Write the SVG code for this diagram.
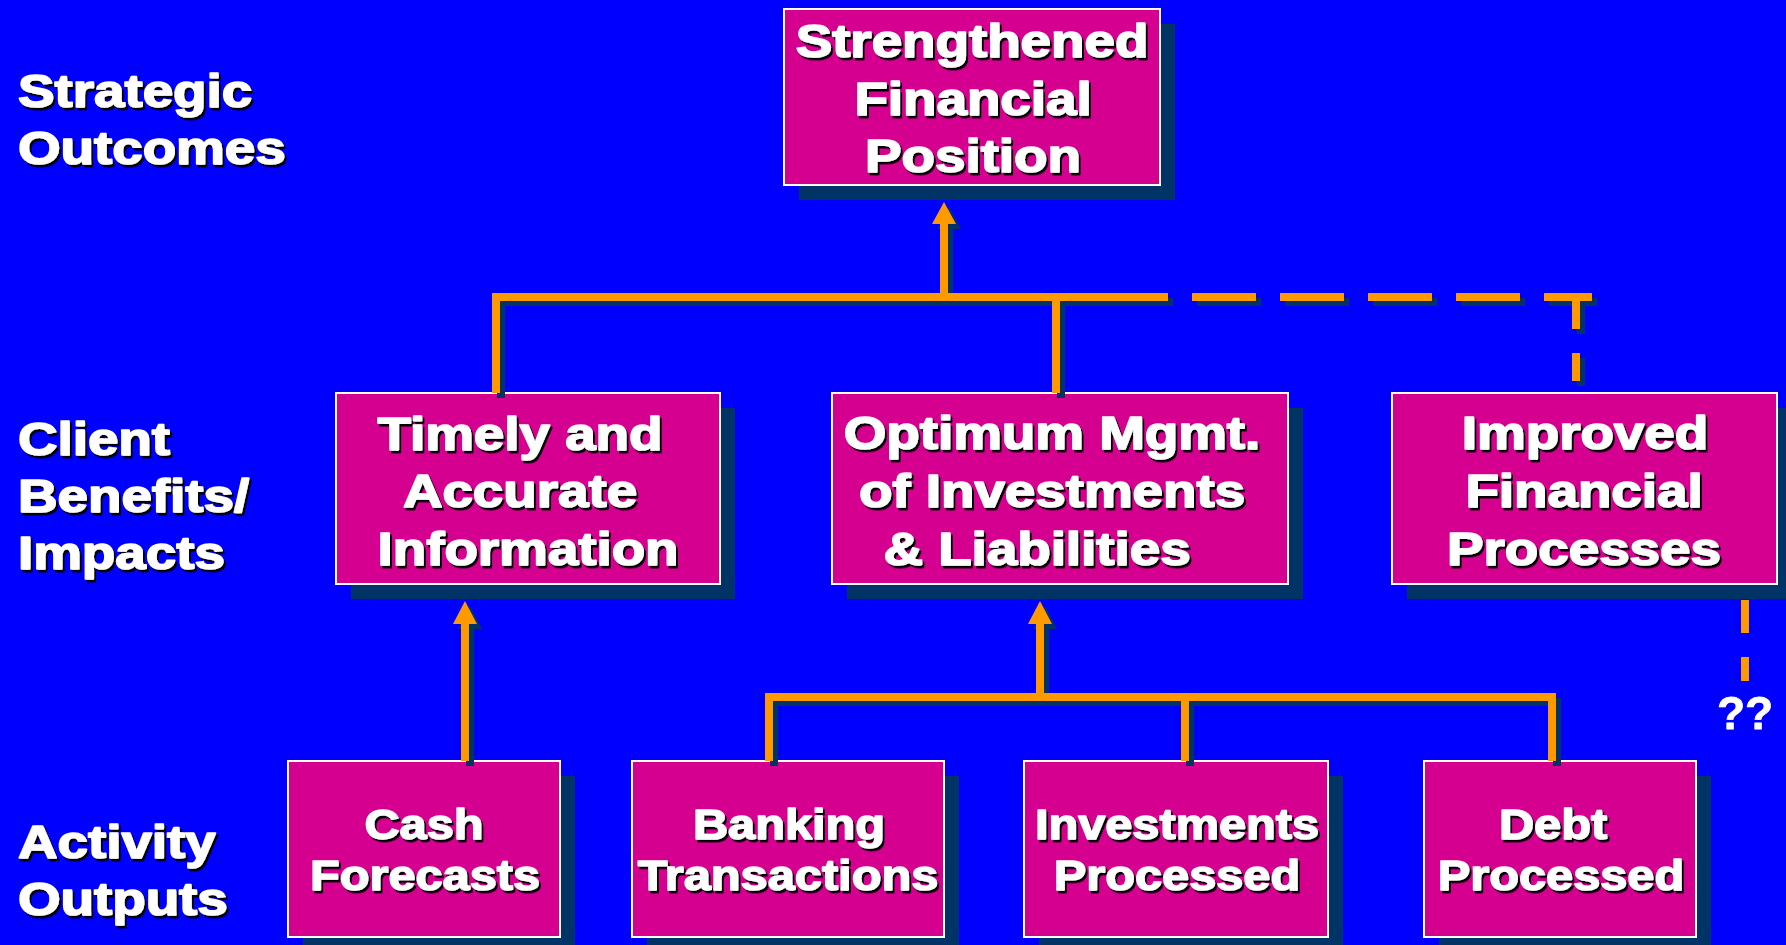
<svg xmlns="http://www.w3.org/2000/svg" width="1786" height="945" viewBox="0 0 1786 945">
  <defs>
    <style>
      .bg { fill: #0000FF; }
      .box { fill: #D5008F; stroke: #FFFFFF; stroke-width: 2; }
      .boxsh { fill: #003366; }
      .lbl { font-family: "Liberation Sans", Arial, Helvetica, sans-serif; font-weight: bold; fill: #FFFFFF; stroke: #FFFFFF; stroke-width: 1.6; stroke-linejoin: round; }
      .big { font-size: 46px; text-anchor: middle; }
      .small { font-size: 42px; text-anchor: middle; stroke-width: 1.4; }
      .side { font-size: 46px; text-anchor: start; }
      .mark { stroke-width: 0.8; }
      .ln { fill: none; stroke: #FF9900; stroke-width: 8; stroke-linejoin: miter; stroke-linecap: butt; }
      .lnsh { fill: none; stroke: #003366; stroke-width: 8; stroke-linejoin: miter; stroke-linecap: butt; }
      .head { fill: #FF9900; }
      .headsh { fill: #003366; }
      .dash { stroke-dasharray: 64 24; }
    </style>
    <filter id="txtshadow" x="-5%" y="-10%" width="115%" height="130%">
      <feDropShadow dx="2" dy="2.5" stdDeviation="0" flood-color="#000000" flood-opacity="1"/>
    </filter>
  </defs>

  <rect class="bg" x="0" y="0" width="1786" height="945"/>

  <!-- level captions on the left -->
  <g id="level-labels" class="lbl side" filter="url(#txtshadow)">
    <text transform="translate(18,107) scale(1.19,1)">Strategic</text>
    <text transform="translate(18,164) scale(1.19,1)">Outcomes</text>
    <text transform="translate(18,455) scale(1.19,1)">Client</text>
    <text transform="translate(18,512) scale(1.19,1)">Benefits/</text>
    <text transform="translate(18,569) scale(1.19,1)">Impacts</text>
    <text transform="translate(18,858) scale(1.19,1)">Activity</text>
    <text transform="translate(18,915) scale(1.19,1)">Outputs</text>
  </g>

  <!-- strategic outcome -->
  <g id="node-strengthened">
    <rect class="boxsh" x="799" y="24" width="376" height="176"/>
    <rect class="box" x="784" y="9" width="376" height="176"/>
    <g class="lbl big" filter="url(#txtshadow)">
      <text transform="translate(972,57) scale(1.19,1)">Strengthened</text>
      <text transform="translate(973,115) scale(1.19,1)">Financial</text>
      <text transform="translate(973,172) scale(1.19,1)">Position</text>
    </g>
  </g>

  <!-- client benefits / impacts -->
  <g id="node-timely">
    <rect class="boxsh" x="351" y="408" width="384" height="191"/>
    <rect class="box" x="336" y="393" width="384" height="191"/>
    <g class="lbl big" filter="url(#txtshadow)">
      <text transform="translate(520,450) scale(1.19,1)">Timely and</text>
      <text transform="translate(520,507) scale(1.19,1)">Accurate</text>
      <text transform="translate(528,565) scale(1.19,1)">Information</text>
    </g>
  </g>

  <g id="node-optimum">
    <rect class="boxsh" x="847" y="408" width="456" height="191"/>
    <rect class="box" x="832" y="393" width="456" height="191"/>
    <g class="lbl big" filter="url(#txtshadow)">
      <text transform="translate(1052,449) scale(1.19,1)">Optimum Mgmt.</text>
      <text transform="translate(1052,507) scale(1.19,1)">of Investments</text>
      <text transform="translate(1037,565) scale(1.19,1)">&amp; Liabilities</text>
    </g>
  </g>

  <g id="node-improved">
    <rect class="boxsh" x="1407" y="408" width="385" height="191"/>
    <rect class="box" x="1392" y="393" width="385" height="191"/>
    <g class="lbl big" filter="url(#txtshadow)">
      <text transform="translate(1585,449) scale(1.19,1)">Improved</text>
      <text transform="translate(1584,507) scale(1.19,1)">Financial</text>
      <text transform="translate(1584,565) scale(1.19,1)">Processes</text>
    </g>
  </g>

  <!-- activity outputs -->
  <g id="node-cash">
    <rect class="boxsh" x="303" y="776" width="272" height="176"/>
    <rect class="box" x="288" y="761" width="272" height="176"/>
    <g class="lbl small" filter="url(#txtshadow)">
      <text transform="translate(424,839) scale(1.16,1)">Cash</text>
      <text transform="translate(425,890) scale(1.16,1)">Forecasts</text>
    </g>
  </g>

  <g id="node-banking">
    <rect class="boxsh" x="647" y="776" width="312" height="176"/>
    <rect class="box" x="632" y="761" width="312" height="176"/>
    <g class="lbl small" filter="url(#txtshadow)">
      <text transform="translate(789,839) scale(1.16,1)">Banking</text>
      <text transform="translate(788,890) scale(1.16,1)">Transactions</text>
    </g>
  </g>

  <g id="node-investments">
    <rect class="boxsh" x="1039" y="776" width="304" height="176"/>
    <rect class="box" x="1024" y="761" width="304" height="176"/>
    <g class="lbl small" filter="url(#txtshadow)">
      <text transform="translate(1177,839) scale(1.16,1)">Investments</text>
      <text transform="translate(1177,890) scale(1.16,1)">Processed</text>
    </g>
  </g>

  <g id="node-debt">
    <rect class="boxsh" x="1439" y="776" width="272" height="176"/>
    <rect class="box" x="1424" y="761" width="272" height="176"/>
    <g class="lbl small" filter="url(#txtshadow)">
      <text transform="translate(1553,839) scale(1.16,1)">Debt</text>
      <text transform="translate(1561,890) scale(1.16,1)">Processed</text>
    </g>
  </g>

  <!-- connectors: navy drop shadow first, orange lines on top -->
  <g id="connectors">
    <g id="connector-shadow" transform="translate(5,5)">
      <path class="lnsh" d="M496,393 V297 H1104"/>
      <path class="lnsh" d="M944,297 V222"/>
      <polygon class="headsh" points="932,224 944,202 956,224"/>
      <path class="lnsh" d="M1056,297 V393"/>
      <path class="lnsh dash" d="M1104,297 H1592"/>
      <path class="lnsh" d="M1576,301 V384" stroke-dasharray="28 24"/>
      <path class="lnsh" d="M465,761 V622"/>
      <polygon class="headsh" points="453,624 465,601 477,624"/>
      <path class="lnsh" d="M769,761 V697 H1552 V761"/>
      <path class="lnsh" d="M1040,697 V622"/>
      <polygon class="headsh" points="1028,624 1040,601 1052,624"/>
      <path class="lnsh" d="M1185,697 V761"/>
    </g>
    <g id="connector-lines">
      <path class="ln" d="M496,393 V297 H1104"/>
      <path class="ln" d="M944,297 V222"/>
      <polygon class="head" points="932,224 944,202 956,224"/>
      <path class="ln" d="M1056,297 V393"/>
      <path class="ln dash" d="M1104,297 H1592"/>
      <path class="ln" d="M1576,301 V384" stroke-dasharray="28 24"/>
      <path class="ln" d="M465,761 V622"/>
      <polygon class="head" points="453,624 465,601 477,624"/>
      <path class="ln" d="M769,761 V697 H1552 V761"/>
      <path class="ln" d="M1040,697 V622"/>
      <polygon class="head" points="1028,624 1040,601 1052,624"/>
      <path class="ln" d="M1185,697 V761"/>
    </g>
    <!-- open-ended dashed link below the process box -->
    <path id="connector-open" class="ln" d="M1745,600 V681" stroke-dasharray="33 24"/>
  </g>

  <text id="unknown-mark" class="lbl mark" x="1745" y="729" font-size="46" text-anchor="middle">??</text>
</svg>
